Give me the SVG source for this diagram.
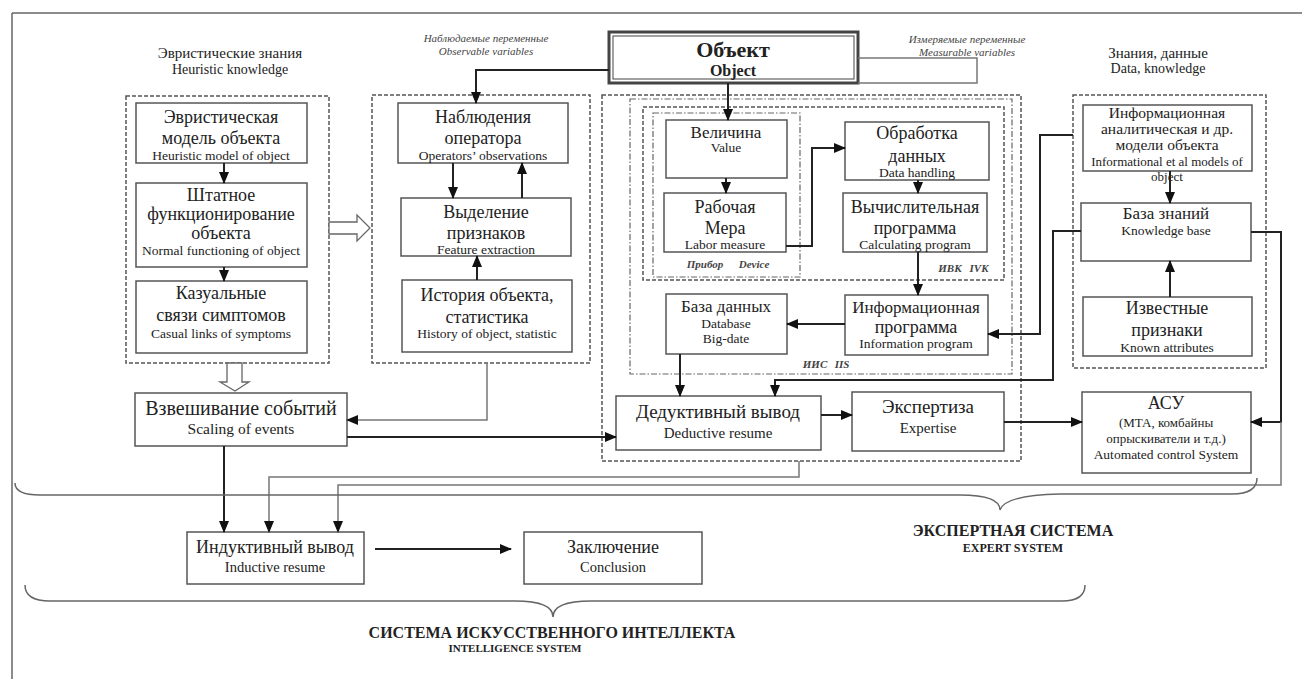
<svg xmlns="http://www.w3.org/2000/svg" width="1302" height="679" viewBox="0 0 1302 679">
<style>
.bx{fill:#fff;stroke:#555;stroke-width:1.5}
.dsh{fill:none;stroke:#555;stroke-width:1.5;stroke-dasharray:4 2}
.dd{fill:none;stroke:#666;stroke-width:1.2;stroke-dasharray:6 2 1.5 2}
.t{font-family:"Liberation Serif","Times New Roman",serif;fill:#222;text-anchor:middle}
.ru{font-size:18px}
.en{font-size:13.5px}
.it{font-size:11px;font-style:italic;fill:#444}
.b{font-weight:bold}
.c{fill:none;stroke:#222;stroke-width:2}
.g{fill:none;stroke:#777;stroke-width:1.5}
.hol{fill:#fff;stroke:#666;stroke-width:1.3}
.br{fill:none;stroke:#666;stroke-width:1.5}
</style>
<defs>
<marker id="ah" markerUnits="userSpaceOnUse" markerWidth="12" markerHeight="10" refX="11" refY="5" orient="auto">
<path d="M0,0 L12,5 L0,10 Z" fill="#111"/>
</marker>
</defs>
<rect width="1302" height="679" fill="#fff"/>
<g id="frame">
<line x1="12" y1="13" x2="1302" y2="13" stroke="#666" stroke-width="1.5"/>
<line x1="12" y1="13" x2="12" y2="679" stroke="#666" stroke-width="1.5"/>
</g>

<g id="containers">
<rect class="dsh" x="126" y="96" width="203" height="267"/>
<rect class="dsh" x="372" y="95" width="218" height="268"/>
<rect class="dsh" x="602" y="95" width="419" height="366"/>
<rect class="dd" x="630" y="99" width="382" height="275"/>
<rect class="dsh" x="643" y="107" width="361" height="173"/>
<rect class="dd" x="653" y="113" width="147" height="164"/>
<rect class="dsh" x="1073" y="95" width="193" height="273"/>
</g>

<g id="headings">
<text class="t" x="230" y="58" font-size="15">Эвристические знания</text>
<text class="t" x="230" y="74" font-size="14">Heuristic knowledge</text>
<text class="t it" x="486" y="42">Наблюдаемые переменные</text>
<text class="t it" x="486" y="55">Observable variables</text>
<text class="t it" x="967" y="43">Измеряемые переменные</text>
<text class="t it" x="967" y="56">Measurable variables</text>
<text class="t" x="1158" y="58" font-size="15">Знания, данные</text>
<text class="t" x="1158" y="73" font-size="14">Data, knowledge</text>
<text class="t it b" x="705" y="268" font-size="10">Прибор</text>
<text class="t it b" x="754" y="268" font-size="10">Device</text>
<text class="t it b" x="950" y="272" font-size="10">ИВК</text>
<text class="t it b" x="979" y="272" font-size="10">IVK</text>
<text class="t it b" x="815" y="368" font-size="10">ИИС</text>
<text class="t it b" x="842" y="368" font-size="10">IIS</text>
</g>

<g id="object">
<rect x="609" y="32" width="249" height="51" fill="#fff" stroke="#444" stroke-width="3"/>
<rect x="613" y="36" width="241" height="43" fill="none" stroke="#444" stroke-width="1"/>
<text class="t b" x="733" y="57" font-size="22">Объект</text>
<text class="t b" x="733" y="76" font-size="16">Object</text>
</g>

<g id="heuristic-model">
<rect class="bx" x="136" y="103" width="171" height="60"/>
<text class="t ru" x="221" y="123">Эвристическая</text>
<text class="t ru" x="221" y="144">модель объекта</text>
<text class="t en" x="221" y="160">Heuristic model of object</text>
</g>
<g id="normal-functioning">
<rect class="bx" x="136" y="183" width="171" height="84"/>
<text class="t ru" x="221" y="201">Штатное</text>
<text class="t ru" x="221" y="220">функционирование</text>
<text class="t ru" x="221" y="239">объекта</text>
<text class="t en" x="221" y="255">Normal functioning of object</text>
</g>
<g id="casual-links">
<rect class="bx" x="136" y="281" width="171" height="72"/>
<text class="t ru" x="221" y="299">Казуальные</text>
<text class="t ru" x="221" y="321">связи симптомов</text>
<text class="t en" x="221" y="338">Casual links of symptoms</text>
</g>

<g id="observations">
<rect class="bx" x="398" y="103" width="170" height="60"/>
<text class="t ru" x="483" y="123">Наблюдения</text>
<text class="t ru" x="483" y="144">оператора</text>
<text class="t en" x="483" y="160">Operators’ observations</text>
</g>
<g id="feature-extraction">
<rect class="bx" x="401" y="198" width="170" height="58"/>
<text class="t ru" x="486" y="218">Выделение</text>
<text class="t ru" x="486" y="239">признаков</text>
<text class="t en" x="486" y="254">Feature extraction</text>
</g>
<g id="history">
<rect class="bx" x="402" y="280" width="170" height="72"/>
<text class="t ru" x="487" y="301">История объекта,</text>
<text class="t ru" x="487" y="323">статистика</text>
<text class="t en" x="487" y="338">History of object, statistic</text>
</g>

<g id="value">
<rect class="bx" x="666" y="120" width="121" height="58"/>
<text class="t" x="726" y="138" font-size="17">Величина</text>
<text class="t en" x="726" y="152">Value</text>
</g>
<g id="labor-measure">
<rect class="bx" x="664" y="193" width="122" height="59"/>
<text class="t ru" x="725" y="213">Рабочая</text>
<text class="t ru" x="725" y="234">Мера</text>
<text class="t en" x="725" y="249">Labor measure</text>
</g>
<g id="data-handling">
<rect class="bx" x="845" y="122" width="144" height="58"/>
<text class="t ru" x="917" y="139">Обработка</text>
<text class="t ru" x="917" y="162">данных</text>
<text class="t en" x="917" y="177">Data handling</text>
</g>
<g id="calculating-program">
<rect class="bx" x="843" y="193" width="144" height="59"/>
<text class="t ru" x="915" y="213">Вычислительная</text>
<text class="t ru" x="915" y="234">программа</text>
<text class="t en" x="915" y="249">Calculating program</text>
</g>
<g id="information-program">
<rect class="bx" x="845" y="295" width="143" height="60"/>
<text class="t" x="916" y="313" font-size="17">Информационная</text>
<text class="t ru" x="916" y="333">программа</text>
<text class="t en" x="916" y="348">Information program</text>
</g>
<g id="database">
<rect class="bx" x="666" y="294" width="121" height="60"/>
<text class="t" x="726" y="312" font-size="17">База данных</text>
<text class="t en" x="726" y="328">Database</text>
<text class="t en" x="726" y="343">Big-date</text>
</g>
<g id="deductive">
<rect class="bx" x="616" y="396" width="205" height="54"/>
<text class="t" x="718" y="418" font-size="19">Дедуктивный вывод</text>
<text class="t" x="718" y="438" font-size="15">Deductive resume</text>
</g>
<g id="expertise">
<rect class="bx" x="852" y="392" width="152" height="59"/>
<text class="t" x="928" y="413" font-size="19">Экспертиза</text>
<text class="t" x="928" y="433" font-size="15">Expertise</text>
</g>
<g id="acs">
<rect class="bx" x="1082" y="392" width="169" height="81"/>
<text class="t ru" x="1166" y="409">АСУ</text>
<text class="t" x="1166" y="427" font-size="13">(МТА, комбайны</text>
<text class="t" x="1166" y="443" font-size="13">опрыскиватели и т.д.)</text>
<text class="t en" x="1166" y="459">Automated control System</text>
</g>
<g id="info-models">
<rect class="bx" x="1083" y="105" width="169" height="66"/>
<text class="t" x="1167" y="118" font-size="15.5">Информационная</text>
<text class="t" x="1167" y="134" font-size="15.5">аналитическая и др.</text>
<text class="t" x="1167" y="150" font-size="15.5">модели объекта</text>
<text class="t" x="1167" y="166" font-size="13">Informational et al models of</text>
<text class="t" x="1167" y="181" font-size="13">object</text>
</g>
<g id="knowledge-base">
<rect class="bx" x="1081" y="203" width="170" height="58"/>
<text class="t" x="1166" y="219" font-size="17">База знаний</text>
<text class="t en" x="1166" y="235">Knowledge base</text>
</g>
<g id="known-attributes">
<rect class="bx" x="1083" y="297" width="169" height="59"/>
<text class="t ru" x="1167" y="314">Известные</text>
<text class="t ru" x="1167" y="336">признаки</text>
<text class="t en" x="1167" y="352">Known attributes</text>
</g>
<g id="scaling">
<rect class="bx" x="135" y="393" width="212" height="53"/>
<text class="t" x="241" y="415" font-size="20">Взвешивание событий</text>
<text class="t" x="241" y="434" font-size="15.5">Scaling of events</text>
</g>
<g id="inductive">
<rect class="bx" x="187" y="532" width="177" height="52"/>
<text class="t ru" x="275" y="553">Индуктивный вывод</text>
<text class="t" x="275" y="572" font-size="14.5">Inductive resume</text>
</g>
<g id="conclusion">
<rect class="bx" x="524" y="532" width="178" height="52"/>
<text class="t ru" x="613" y="553">Заключение</text>
<text class="t" x="613" y="572" font-size="14.5">Conclusion</text>
</g>

<g id="connectors">
<polyline class="c" points="609,70 476,70 476,103" marker-end="url(#ah)"/>
<line class="c" x1="728" y1="83" x2="728" y2="120" marker-end="url(#ah)"/>
<polyline class="g" points="858,58 977,58 977,83 858,83"/>
<line class="c" x1="224" y1="163" x2="224" y2="183" marker-end="url(#ah)"/>
<line class="c" x1="224" y1="267" x2="224" y2="281" marker-end="url(#ah)"/>
<line class="c" x1="453" y1="163" x2="453" y2="198" marker-end="url(#ah)"/>
<line class="c" x1="522" y1="198" x2="522" y2="163" marker-end="url(#ah)"/>
<line class="c" x1="477" y1="280" x2="477" y2="256" marker-end="url(#ah)"/>
<line class="c" x1="726" y1="178" x2="726" y2="193" marker-end="url(#ah)"/>
<polyline class="c" points="786,246 812,246 812,148 845,148" marker-end="url(#ah)"/>
<line class="c" x1="918" y1="180" x2="918" y2="193" marker-end="url(#ah)"/>
<line class="c" x1="918" y1="252" x2="918" y2="295" marker-end="url(#ah)"/>
<line class="c" x1="845" y1="324" x2="787" y2="324" marker-end="url(#ah)"/>
<polyline class="c" points="1073,135 1040,135 1040,334 988,334" marker-end="url(#ah)"/>
<line class="c" x1="1170" y1="171" x2="1170" y2="203" marker-end="url(#ah)"/>
<line class="c" x1="1170" y1="297" x2="1170" y2="261" marker-end="url(#ah)"/>
<polyline class="c" points="1081,231 1053,231 1053,380 775,380 775,396" marker-end="url(#ah)"/>
<line class="c" x1="680" y1="354" x2="680" y2="396" marker-end="url(#ah)"/>
<line class="c" x1="821" y1="415" x2="852" y2="415" marker-end="url(#ah)"/>
<line class="c" x1="1004" y1="422" x2="1082" y2="422" marker-end="url(#ah)"/>
<polyline class="c" points="1251,232 1281,232 1281,422 1251,422" marker-end="url(#ah)"/>
<polyline class="g" points="1281,422 1281,485 338,485 338,532" marker-end="url(#ah)"/>
<polyline class="g" points="799,461 799,477 269,477 269,532" marker-end="url(#ah)"/>
<line class="c" x1="224" y1="446" x2="224" y2="532" marker-end="url(#ah)"/>
<polyline class="g" points="487,363 487,420 347,420" marker-end="url(#ah)"/>
<line class="c" x1="347" y1="437" x2="616" y2="437" marker-end="url(#ah)"/>
<line class="c" x1="375" y1="549" x2="511" y2="549" marker-end="url(#ah)"/>
<polygon class="hol" points="329,222 357,222 357,215 370,228 357,241 357,234 329,234"/>
<polygon class="hol" points="227,363 242,363 242,382 249,382 235,391 220,382 227,382"/>
</g>

<g id="braces">
<path class="br" d="M15,483 Q15,495 40,495 L960,495 Q1000,495 1000,510 Q1005,495 1060,494 L1232,494 Q1257,494 1257,478"/>
<path class="br" d="M25,585 Q25,601 50,601 L515,601 Q553,601 553,617 Q553,601 591,601 L1062,601 Q1085,601 1085,585"/>
<text class="t b" x="1013" y="536" font-size="16">ЭКСПЕРТНАЯ СИСТЕМА</text>
<text class="t b" x="1013" y="552" font-size="12">EXPERT SYSTEM</text>
<text class="t b" x="552" y="638" font-size="16">СИСТЕМА ИСКУССТВЕННОГО ИНТЕЛЛЕКТА</text>
<text class="t b" x="515" y="652" font-size="11">INTELLIGENCE SYSTEM</text>
</g>
</svg>
